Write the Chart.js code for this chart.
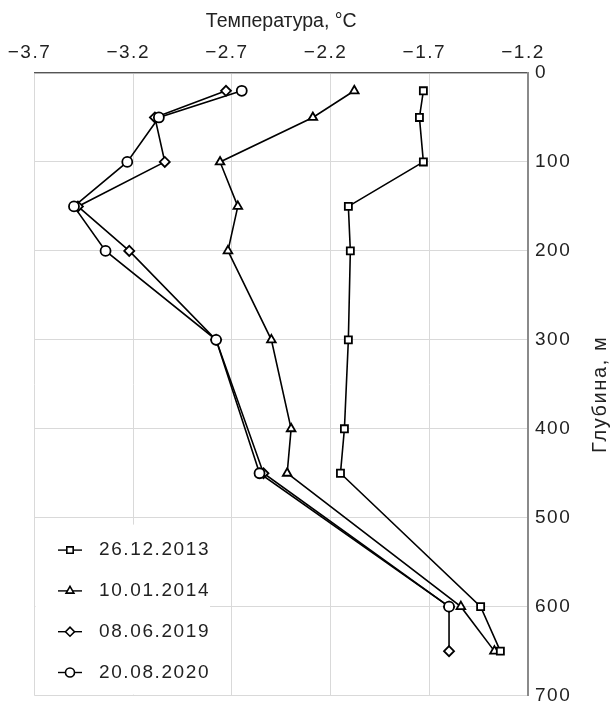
<!DOCTYPE html>
<html lang="ru">
<head>
<meta charset="utf-8">
<title>Температура по глубине</title>
<script src="https://cdn.jsdelivr.net/npm/chart.js@4.4.1/dist/chart.umd.min.js"></script>
<style>
    html, body { margin: 0; padding: 0; background: #fff; overflow: hidden; }
    #wrap { position: relative; width: 610px; height: 714px; }
</style>
</head>
<body>
<div id="wrap"><canvas id="grafico"></canvas></div>
<script>
// ---------------- DATOS ----------------
const seriesLabels = ["26.12.2013", "10.01.2014", "08.06.2019", "20.08.2020"];

const depths2013 = [20, 50, 100, 150, 200, 300, 400, 450, 600, 650];
const temps2013 = [-1.73, -1.75, -1.73, -2.11, -2.10, -2.11, -2.13, -2.15, -1.44, -1.34];

const depths2014 = [20, 50, 100, 150, 200, 300, 400, 450, 600, 650];
const temps2014 = [-2.08, -2.29, -2.76, -2.67, -2.72, -2.50, -2.40, -2.42, -1.54, -1.37];

const depths2019 = [20, 50, 100, 150, 200, 300, 450, 600, 650];
const temps2019 = [-2.73, -3.09, -3.04, -3.48, -3.22, -2.78, -2.54, -1.60, -1.60];

const depths2020 = [20, 50, 100, 150, 200, 300, 450, 600];
const temps2020 = [-2.65, -3.07, -3.23, -3.50, -3.34, -2.78, -2.56, -1.60];

const tempTicks = [-3.7, -3.2, -2.7, -2.2, -1.7, -1.2];
const depthTicks = [0, 100, 200, 300, 400, 500, 600, 700];

const xTitle = "Температура, °C";
const yTitle = "Глубина, м";

const FAMILY = "'Liberation Sans', Arial, sans-serif";
const FONT = { family: FAMILY, size: 19 };
const TEXT_COLOR = "#222";

function makeSeries(label, depths, temps, style, order) {
    return {
        label,
        data: depths.map((d, i) => ({ x: temps[i], y: d })),
        showLine: true,
        borderColor: "#000",
        backgroundColor: "#fff",
        borderWidth: 1.6,
        pointStyle: style,
        pointRadius: 5,
        pointHoverRadius: 5,
        pointBorderWidth: 1.8,
        pointBackgroundColor: "#fff",
        pointBorderColor: "#000",
        order,
    };
}

// spaced-out digits like the original
const tracking = {
    id: "tracking",
    beforeLayout(chart) { chart.ctx.letterSpacing = "1.5px"; },
    beforeDraw(chart) { chart.ctx.letterSpacing = "1.5px"; },
};

// legend inside the plot, lower left
const legendInside = {
    id: "legendInside",
    afterDatasetsDraw(chart) {
        const { ctx, chartArea } = chart;
        const boxTop = chartArea.bottom - 171;
        ctx.save();
        ctx.fillStyle = "#fff";
        ctx.fillRect(chartArea.left + 1, boxTop, 210 - chartArea.left - 1, chartArea.bottom - 1 - boxTop);

        chart.data.datasets.forEach((ds, i) => {
            const y = boxTop + 25.5 + i * 40.8;
            ctx.strokeStyle = "#000";
            ctx.lineWidth = 1.4;
            ctx.beginPath();
            ctx.moveTo(58, y);
            ctx.lineTo(82, y);
            ctx.stroke();

            ctx.fillStyle = "#fff";
            ctx.lineWidth = 1.6;
            Chart.helpers.drawPoint(ctx, { pointStyle: ds.pointStyle, radius: 4.5, rotation: 0, borderWidth: 1.6 }, 70, y);

            ctx.letterSpacing = "1.6px";
            ctx.fillStyle = TEXT_COLOR;
            ctx.font = `${FONT.size}px ${FAMILY}`;
            ctx.textBaseline = "middle";
            ctx.textAlign = "left";
            ctx.fillText(ds.label, 99, y);
        });
        ctx.restore();
    },
};

// axis titles: temperature on top, depth on the right reading bottom to top
const axisTitles = {
    id: "axisTitles",
    afterDraw(chart) {
        const { ctx, chartArea } = chart;
        ctx.save();
        ctx.fillStyle = TEXT_COLOR;
        ctx.textAlign = "center";
        ctx.textBaseline = "alphabetic";

        ctx.letterSpacing = "0px";
        ctx.font = `19.5px ${FAMILY}`;
        ctx.fillText(xTitle, (chartArea.left + chartArea.right) / 2, 27);

        ctx.letterSpacing = "1.6px";
        ctx.font = `20px ${FAMILY}`;
        ctx.translate(606, (chartArea.top + chartArea.bottom) / 2 + 10);
        ctx.rotate(-Math.PI / 2);
        ctx.fillText(yTitle, 0, 0);
        ctx.restore();
    },
};

function formatTemp(v) {
    return v.toFixed(1).replace("-", "\u2212");
}

function initGrafico() {
    const ctx = document.getElementById("grafico");

    new Chart(ctx, {
        type: "scatter",
        data: {
            datasets: [
                makeSeries(seriesLabels[0], depths2013, temps2013, "rect", 0),
                makeSeries(seriesLabels[1], depths2014, temps2014, "triangle", 1),
                makeSeries(seriesLabels[2], depths2019, temps2019, "rectRot", 3),
                makeSeries(seriesLabels[3], depths2020, temps2020, "circle", 2),
            ],
        },
        options: {
            responsive: true,
            maintainAspectRatio: false,
            animation: false,
            layout: { padding: { left: 34.5, top: 32.2, right: 0, bottom: 0 } },
            plugins: {
                legend: { display: false },
                tooltip: { enabled: false },
            },
            scales: {
                x: {
                    type: "linear",
                    position: "top",
                    min: tempTicks[0],
                    max: tempTicks[tempTicks.length - 1],
                    afterBuildTicks: (scale) => {
                        scale.ticks = tempTicks.map((v) => ({ value: v }));
                    },
                    ticks: {
                        font: FONT,
                        color: TEXT_COLOR,
                        padding: 9,
                        labelOffset: -5,
                        maxRotation: 0,
                        callback: (v) => formatTemp(v),
                    },
                    grid: { color: "#d9d9d9", lineWidth: 1, drawTicks: false },
                    border: { color: "#555", width: 1.2 },
                },
                y: {
                    type: "linear",
                    position: "right",
                    reverse: true,
                    min: depthTicks[0],
                    max: depthTicks[depthTicks.length - 1],
                    afterBuildTicks: (scale) => {
                        scale.ticks = depthTicks.map((v) => ({ value: v }));
                    },
                    afterFit: (scale) => { scale.width = 82; },
                    ticks: {
                        font: FONT,
                        color: TEXT_COLOR,
                        padding: 7,
                    },
                    grid: { color: "#d9d9d9", lineWidth: 1, drawTicks: false },
                    border: { color: "#8a8a8a", width: 2 },
                },
            },
        },
        plugins: [tracking, legendInside, axisTitles],
    });
}

document.addEventListener("DOMContentLoaded", initGrafico);
</script>
</body>
</html>
